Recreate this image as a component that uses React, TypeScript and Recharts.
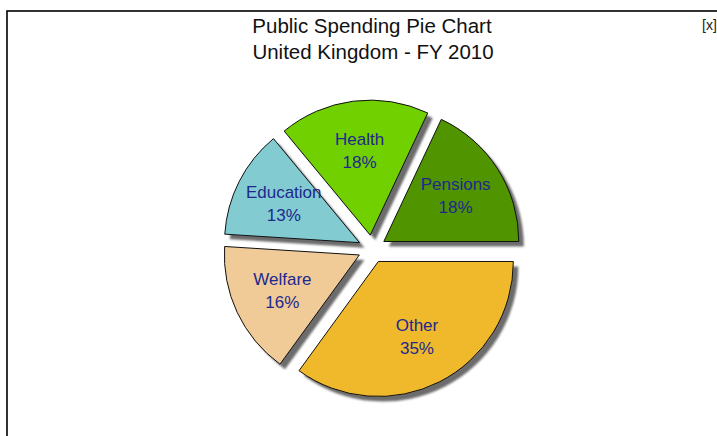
import React from 'react';
import { PieChart, Pie, Sector } from 'recharts';

const categories = ['Pensions', 'Health', 'Education', 'Welfare', 'Other'];
const shares = [18, 18, 13, 16, 35];
const colors = ['#509400', '#70d000', '#82cbd1', '#f0cb98', '#f0b92c'];
const titleLines = ['Public Spending Pie Chart', 'United Kingdom - FY 2010'];

const data = categories.map((name, i) => ({ name, value: shares[i] }));

const EXPLODE = 14;
const RAD = Math.PI / 180;
const FONT = '"Liberation Sans", Arial, sans-serif';

function shift(mid: number, d: number) {
  return [d * Math.cos(-mid * RAD), d * Math.sin(-mid * RAD)];
}

const ShadowSlice = (p: any) => {
  const [dx, dy] = shift(p.midAngle, EXPLODE);
  return (
    <Sector
      cx={p.cx + dx + 5}
      cy={p.cy + dy + 5}
      innerRadius={0}
      outerRadius={p.outerRadius}
      startAngle={p.startAngle}
      endAngle={p.endAngle}
      fill="#6c6c6c"
      stroke="none"
      filter="url(#shadowBlur)"
    />
  );
};

const MainSlice = (p: any) => {
  const [dx, dy] = shift(p.midAngle, EXPLODE);
  const cx = p.cx + dx;
  const cy = p.cy + dy;
  const [lx, ly] = shift(p.midAngle, p.outerRadius * 0.63);
  const x = cx + lx;
  const y = cy + ly;
  return (
    <g>
      <Sector
        cx={cx}
        cy={cy}
        innerRadius={0}
        outerRadius={p.outerRadius}
        startAngle={p.startAngle}
        endAngle={p.endAngle}
        fill={colors[p.index]}
        stroke="#111"
        strokeWidth={1}
      />
      <text x={x} y={y - 11.5} textAnchor="middle" dominantBaseline="central" fontFamily={FONT} fontSize={17} fill="#20288e">
        {categories[p.index]}
      </text>
      <text x={x} y={y + 11.5} textAnchor="middle" dominantBaseline="central" fontFamily={FONT} fontSize={17} fill="#20288e">
        {`${Math.round(p.percent * 100)}%`}
      </text>
    </g>
  );
};

export default function App() {
  return (
    <div style={{ position: 'absolute', left: 0, top: 0, width: 717, height: 436, background: '#fff', overflow: 'hidden' }}>
      <PieChart width={717} height={436} margin={{ top: 0, right: 0, bottom: 0, left: 0 }}>
        <defs>
          <filter id="shadowBlur" x="-10%" y="-10%" width="120%" height="120%">
            <feGaussianBlur stdDeviation="1.2" />
          </filter>
        </defs>
        <rect x={7} y={11} width={720} height={440} fill="none" stroke="#000" strokeWidth={1.6} />
        <text x={372} y={33} textAnchor="middle" fontFamily={FONT} fontSize={20.5} fill="#111">
          {titleLines[0]}
        </text>
        <text x={373} y={59} textAnchor="middle" fontFamily={FONT} fontSize={20.5} fill="#111">
          {titleLines[1]}
        </text>
        <text x={702} y={30} fontFamily={FONT} fontSize={14} fill="#222">
          [x]
        </text>
        <Pie
          data={data}
          dataKey="value"
          nameKey="name"
          cx={372}
          cy={249}
          outerRadius={135}
          startAngle={0}
          endAngle={360}
          fill="none"
          stroke="none"
          label={ShadowSlice}
          labelLine={false}
          isAnimationActive={false}
        />
        <Pie
          data={data}
          dataKey="value"
          nameKey="name"
          cx={372}
          cy={249}
          outerRadius={135}
          startAngle={0}
          endAngle={360}
          fill="none"
          stroke="none"
          label={MainSlice}
          labelLine={false}
          isAnimationActive={false}
        />
      </PieChart>
    </div>
  );
}
